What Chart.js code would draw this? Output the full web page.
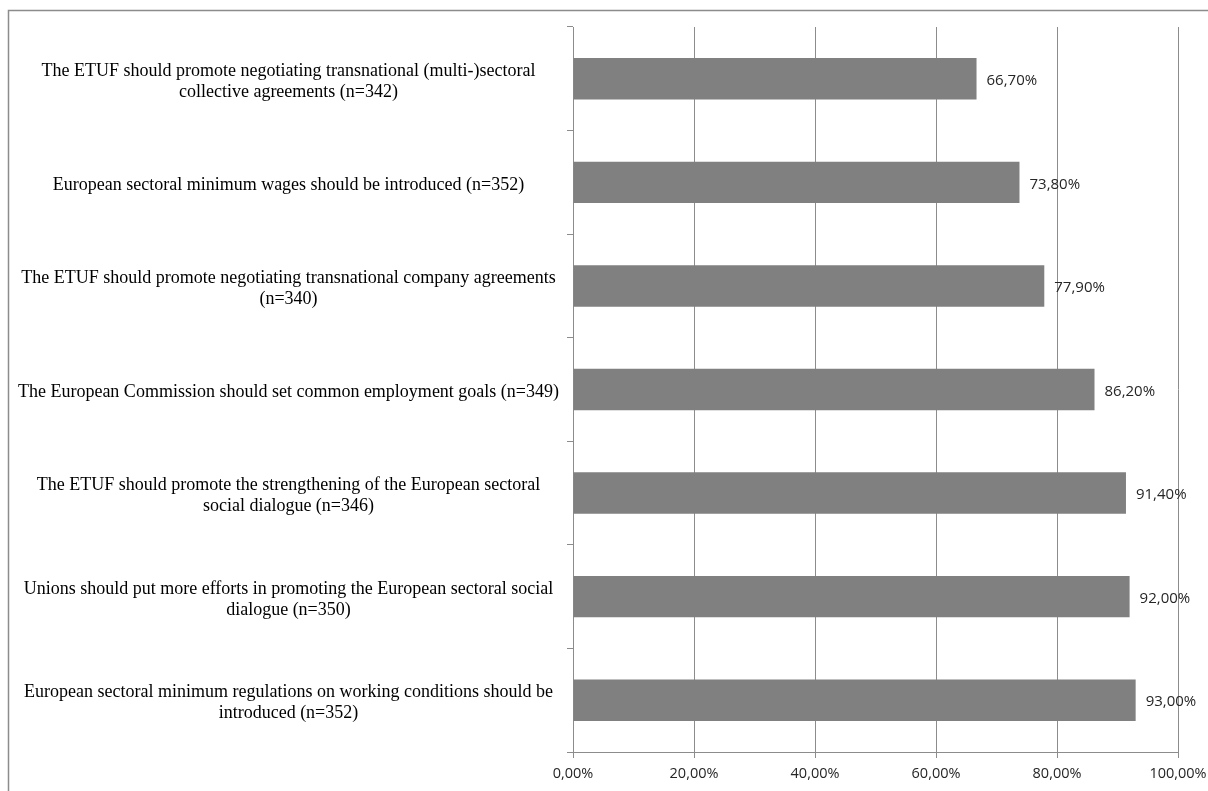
<!DOCTYPE html>
<html>
<head>
<meta charset="utf-8">
<script src="https://cdn.jsdelivr.net/npm/chart.js@4.4.1/dist/chart.umd.min.js"></script>
<style>
  html, body { margin: 0; padding: 0; background: #fff; }
  #wrap { position: relative; width: 1208px; height: 791px; }
</style>
</head>
<body>
<div id="wrap"><canvas id="c" width="1208" height="791"></canvas></div>
<script>
// Statements (each split into the lines they are printed on)
const categories = [
  ["The ETUF should promote negotiating transnational (multi-)sectoral", "collective agreements (n=342)"],
  ["European sectoral minimum wages should be introduced (n=352)"],
  ["The ETUF should promote negotiating transnational company agreements", "(n=340)"],
  ["The European Commission should set common employment goals (n=349)"],
  ["The ETUF should promote the strengthening of the European sectoral", "social dialogue (n=346)"],
  ["Unions should put more efforts in promoting the European sectoral social", "dialogue (n=350)"],
  ["European sectoral minimum regulations on working conditions should be", "introduced (n=352)"]
];
// Share of agreement, percent
const agreement = [66.7, 73.8, 77.9, 86.2, 91.4, 92.0, 93.0];
// Value axis ticks, percent
const xTicks = [0, 20, 40, 60, 80, 100];

const fmt = v => v.toFixed(2).replace('.', ',') + '%';

// Thin outer frame along the top and left edges
const frame = {
  id: 'frame',
  beforeDraw(chart) {
    const ctx = chart.ctx;
    ctx.save();
    ctx.strokeStyle = '#8c8c8c';
    ctx.lineWidth = 1.5;
    ctx.beginPath();
    ctx.moveTo(8.5, 791);
    ctx.lineTo(8.5, 10.5);
    ctx.lineTo(1208, 10.5);
    ctx.stroke();
    ctx.restore();
  }
};

// Percentage written just past the end of each bar
const valueLabels = {
  id: 'valueLabels',
  afterDatasetsDraw(chart) {
    const ctx = chart.ctx;
    const meta = chart.getDatasetMeta(0);
    ctx.save();
    ctx.font = '15px "Open Sans", sans-serif';
    ctx.fillStyle = '#262626';
    ctx.textAlign = 'left';
    ctx.textBaseline = 'middle';
    meta.data.forEach((bar, i) => {
      ctx.fillText(fmt(agreement[i]), bar.x + 10, bar.y + 2);
    });
    ctx.restore();
  }
};

new Chart(document.getElementById('c'), {
  type: 'bar',
  data: {
    labels: categories,
    datasets: [{
      data: agreement,
      backgroundColor: '#808080',
      borderWidth: 0,
      categoryPercentage: 0.4,
      barPercentage: 1.0
    }]
  },
  options: {
    indexAxis: 'y',
    responsive: false,
    animation: false,
    layout: { padding: { top: 27, right: 30, left: 0, bottom: 0 } },
    plugins: { legend: { display: false }, tooltip: { enabled: false } },
    scales: {
      x: {
        min: 0, max: 100,
        afterFit(s) { s.height = 39; s.paddingLeft = 0; s.paddingRight = 0; },
        afterBuildTicks(s) { s.ticks = xTicks.map(v => ({ value: v })); },
        grid: { color: '#8c8c8c', lineWidth: 1, tickLength: 6, drawTicks: true },
        border: { color: '#8c8c8c', width: 1 },
        ticks: {
          padding: 7,
          color: '#262626',
          font: { family: '"Open Sans", sans-serif', size: 14.5 },
          callback: v => fmt(v),
          maxRotation: 0
        }
      },
      y: {
        afterFit(s) { s.width = 573; s.paddingTop = 0; s.paddingBottom = 0; },
        grid: { offset: true, drawOnChartArea: false, drawTicks: true, tickLength: 6, color: '#8c8c8c' },
        border: { color: '#8c8c8c', width: 1 },
        ticks: {
          crossAlign: 'center',
          padding: 8,
          labelOffset: 3,
          color: '#000',
          font: { family: '"Liberation Serif", "Times New Roman", serif', size: 18, lineHeight: 1.17 }
        }
      }
    }
  },
  plugins: [frame, valueLabels]
});
</script>
</body>
</html>
